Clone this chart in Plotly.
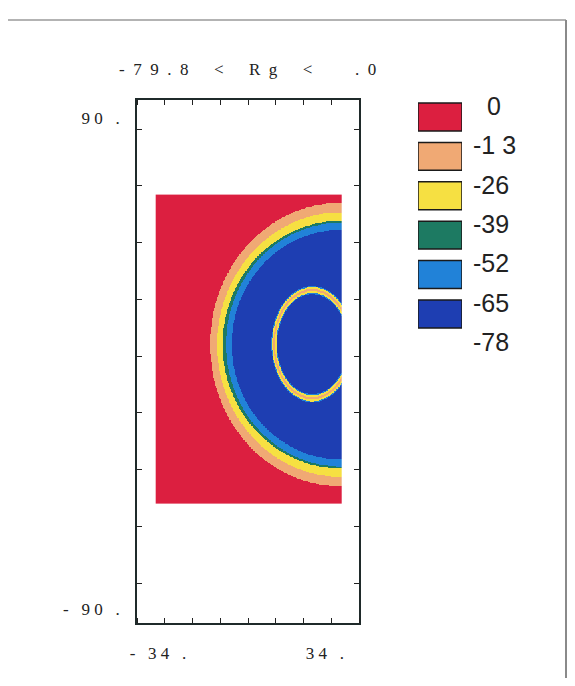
import numpy as np
import plotly.graph_objects as go

# the page body adds an 8px margin on every side, so the figure is drawn 16px smaller
OFF = 8
W, H = 575 - 2 * OFF, 686 - 2 * OFF

NB = "\u00a0"

# legend levels and colours (Rg)
LEVELS = [0, -13, -26, -39, -52, -65, -78]
LEVEL_LABELS = ["0", "-1 3", "-26", "-39", "-52", "-65", "-78"]
BAND_COLORS = ["#dc1f40", "#f0a974", "#f6e042", "#1d7a62", "#2182d8", "#1e3eb2"]

TITLE = "-79.8 < Rg <  .0"
X_TICKS = [-34, 34]
X_TICK_TEXT = ["- 34 .", "34 ."]
Y_TICKS = [90, -90]
Y_TICK_TEXT = ["90 .", "- 90 ."]
X_RANGE = [-42.55, 47.85]
Y_RANGE = [-95.1, 96.6]

# extent of the coloured field
FIELD_X = [-34.8, 40.5]
FIELD_Y = [-51.1, 61.8]

# outer rings: common centre, semi-axes of each band boundary (red/peach ... ltblue/dkblue)
OUTER_CENTER = (40.1, 7.0)
OUTER_A = [52.9, 50.0, 47.8, 46.4, 44.1]
OUTER_B = [51.9, 48.4, 45.3, 44.6, 42.0]

# inner thin ring (ellipse) and the band index across its half width
INNER_CENTER = (28.7, 7.15)
INNER_A, INNER_B = 15.5, 19.8
INNER_HALF = [0.075, 0.055, 0.02]   # normalized-radius half widths
INNER_BAND = [4, 2, 1]              # ltblue, yellow, peach


def spaced(s, gap=1):
    # typewriter-like letter spacing, kept with non-breaking spaces
    sep = NB * gap
    return sep.join(c if c != " " else NB * gap for c in s)


def centred(s, width=3):
    # legend labels are centred in the reference; pad the short ones
    pad = width - len(s.replace(" ", ""))
    return NB * pad + s.replace(" ", NB)


def px_x(p):
    return (p - OFF) / W


def px_y(p):
    return 1 - (p - OFF) / H


def field_grid(nx=280, ny=460):
    xs = np.linspace(FIELD_X[0], FIELD_X[1], nx)
    ys = np.linspace(FIELD_Y[0], FIELD_Y[1], ny)
    X, Y = np.meshgrid(xs, ys)
    band = np.zeros(X.shape, dtype=int)
    dx, dy = X - OUTER_CENTER[0], Y - OUTER_CENTER[1]
    for a, b in zip(OUTER_A, OUTER_B):
        band += ((dx / a) ** 2 + (dy / b) ** 2 < 1).astype(int)
    r = np.sqrt(((X - INNER_CENTER[0]) / INNER_A) ** 2 + ((Y - INNER_CENTER[1]) / INNER_B) ** 2)
    for hw, bi in zip(INNER_HALF, INNER_BAND):
        band[np.abs(r - 1) < hw] = bi
    mids = np.array([(LEVELS[i] + LEVELS[i + 1]) / 2 for i in range(len(BAND_COLORS))])
    return xs, ys, mids[band]


xs, ys, z = field_grid()

# stepped colour scale, zmin -78 .. zmax 0 (reversed: dark blue low)
n = len(BAND_COLORS)
cs = []
for i, c in enumerate(BAND_COLORS[::-1]):
    cs.append([i / n, c])
    cs.append([(i + 1) / n, c])

fig = go.Figure()
fig.add_trace(go.Heatmap(
    x=xs, y=ys, z=z, colorscale=cs, zmin=LEVELS[-1], zmax=LEVELS[0],
    showscale=False, zsmooth=False, hoverinfo="skip",
))

# legend boxes as bars on a second axis
fig.add_trace(go.Bar(
    x=[0] * n, y=[9.2] * n, base=[lv - 8.2 for lv in LEVELS[:-1]],
    width=1, marker=dict(color=BAND_COLORS, line=dict(color="#1a1a1a", width=1.5)),
    xaxis="x2", yaxis="y2", showlegend=False, hoverinfo="skip",
))

serif = dict(family="Liberation Serif", size=17, color="#222")
frame = dict(showline=True, linecolor="#1f2a2a", linewidth=1.8, mirror="ticks",
             showgrid=False, zeroline=False, ticks="", ticklen=0)

fig.update_layout(
    width=W, height=H, margin=dict(l=0, r=0, t=0, b=0),
    paper_bgcolor="white", plot_bgcolor="white", showlegend=False,
    xaxis=dict(domain=[px_x(137), px_x(359)], range=X_RANGE, tickvals=X_TICKS,
               ticktext=[spaced(t) for t in X_TICK_TEXT],
               tickfont=serif, ticklabelstandoff=14, automargin=False,
               minor=dict(tick0=X_RANGE[0], dtick=(X_RANGE[1] - X_RANGE[0]) / 8,
                          ticks="inside", ticklen=5, tickcolor="#222", tickwidth=1.3),
               **frame),
    yaxis=dict(domain=[px_y(623), px_y(100)], range=Y_RANGE, tickvals=Y_TICKS,
               ticktext=[spaced(t) for t in Y_TICK_TEXT],
               tickfont=serif, ticklabelstandoff=12, automargin=False,
               minor=dict(tick0=2.75, dtick=20.8, ticks="inside", ticklen=5,
                          tickcolor="#222", tickwidth=1.3),
               **frame),
    xaxis2=dict(domain=[px_x(418), px_x(462)], range=[-0.5, 0.5], visible=False, anchor="y2"),
    yaxis2=dict(domain=[px_y(350), px_y(90)], range=[-80.5, 5.3], anchor="x2", side="right",
                tickvals=LEVELS, ticktext=[centred(t) for t in LEVEL_LABELS],
                showgrid=False, zeroline=False,
                showline=False, ticks="", ticklabelstandoff=10, automargin=False,
                tickfont=dict(family="Liberation Sans", size=25, color="#222")),
    annotations=[dict(text=spaced(TITLE, 2), x=px_x(247), y=px_y(70), xref="paper", yref="paper",
                      xanchor="center", yanchor="middle", showarrow=False, font=serif)],
    shapes=[
        dict(type="line", xref="paper", yref="paper", x0=0, x1=px_x(566), y0=px_y(20), y1=px_y(20),
             line=dict(color="#9a9a9a", width=1.5)),
        dict(type="line", xref="paper", yref="paper", x0=px_x(566), x1=px_x(566), y0=0, y1=px_y(20),
             line=dict(color="#8a8a8a", width=2)),
    ],
)

fig.write_html("out.html")
